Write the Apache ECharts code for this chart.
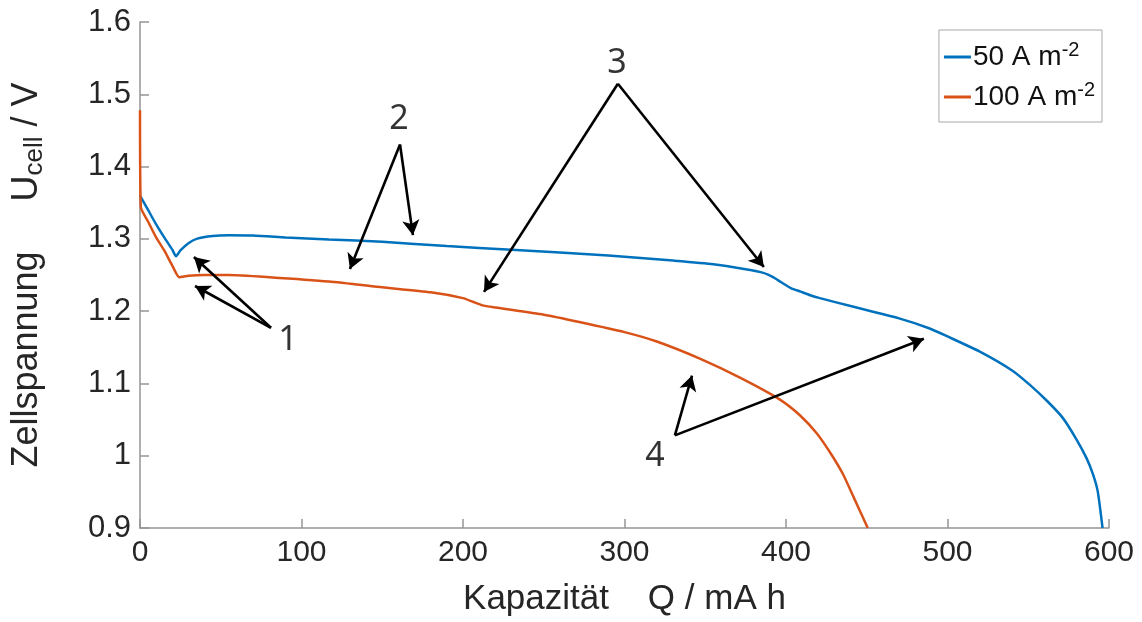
<!DOCTYPE html>
<html>
<head>
<meta charset="utf-8">
<script src="https://cdn.jsdelivr.net/npm/echarts@6/dist/echarts.min.js"></script>
<style>
  html, body { margin: 0; padding: 0; background: #fff; }
  #mainChart { width: 1142px; height: 622px; }
</style>
</head>
<body>
<div id="mainChart"></div>
<script>
  // discharge curve 50 A m-2
  var q50 = [0, 5, 10, 15, 20, 22.3, 25, 30, 35, 45, 55, 70, 90, 117, 150, 190, 230, 290, 330, 355, 375, 386, 392, 397, 403, 409, 415, 421, 440, 470, 489, 500, 520, 540, 551, 562, 571.5, 580, 586, 590, 593, 596];
  var u50 = [1.360, 1.340, 1.320, 1.302, 1.285, 1.276, 1.284, 1.294, 1.300, 1.304, 1.305, 1.3045, 1.302, 1.299, 1.296, 1.290, 1.285, 1.277, 1.270, 1.265, 1.258, 1.253, 1.247, 1.240, 1.232, 1.227, 1.222, 1.218, 1.207, 1.190, 1.176, 1.165, 1.144, 1.118, 1.098, 1.075, 1.052, 1.022, 0.997, 0.975, 0.951, 0.900];
  // discharge curve 100 A m-2
  var q100 = [0, 0.5, 5, 10, 15, 20, 24.3, 30, 40, 55, 80, 117, 150, 180, 200, 206, 212, 220, 250, 272, 300, 320, 347, 371.5, 396, 408.6, 419, 428, 435.4, 442, 449, 450.6];
  var u100 = [1.478, 1.344, 1.324, 1.302, 1.284, 1.263, 1.247, 1.249, 1.250, 1.250, 1.247, 1.241, 1.233, 1.226, 1.218, 1.213, 1.208, 1.205, 1.195, 1.185, 1.171, 1.158, 1.134, 1.108, 1.078, 1.056, 1.031, 1.002, 0.974, 0.942, 0.908, 0.900];

  var seriesNames = ['50 A m-2', '100 A m-2'];
  var xTicks = [0, 100, 200, 300, 400, 500, 600];
  var yTicks = [0.9, 1, 1.1, 1.2, 1.3, 1.4, 1.5, 1.6];

  // annotation arrows: [fromQ, fromU, toQ, toU]
  var arrows = [
    [81.1, 1.177, 33.4, 1.2748],
    [81.1, 1.177, 34.1, 1.2348],
    [161.0, 1.4305, 130.0, 1.2583],
    [161.0, 1.4305, 169.0, 1.3051],
    [295.9, 1.5146, 213.0, 1.2266],
    [295.9, 1.5146, 386.3, 1.2610],
    [331.2, 1.0281, 341.8, 1.1108],
    [331.2, 1.0281, 485.4, 1.1618]
  ];
  // annotation numbers: [Q, U, text]
  var marks = [
    [91.6, 1.159, '1'],
    [160.4, 1.465, '2'],
    [295.3, 1.5435, '3'],
    [318.9, 0.9992, '4']
  ];

  function zip (xs, ys) {
    var out = [];
    for (var i = 0; i < xs.length; i++) out.push([xs[i], ys[i]]);
    return out;
  }

  var axisGrey = '#959595';
  var textColor = '#262626';
  var labelFont = 'Liberation Sans, Arial, sans-serif';

  var myChart = echarts.init(document.getElementById('mainChart'));
  myChart.setOption({
    animation: false,
    grid: { left: 140, right: 33, top: 22, bottom: 92 },
    legend: {
      data: seriesNames,
      orient: 'vertical',
      right: 40,
      top: 30,
      itemGap: 6,
      itemWidth: 27,
      itemHeight: 3,
      icon: 'rect',
      borderColor: '#a8a8a8',
      borderWidth: 1,
      padding: [10, 7, 8, 5],
      formatter: function (name) {
        return '{t|' + name.replace(' m-2', ' m') + '}{s|-2}';
      },
      textStyle: {
        color: '#111',
        padding: [0, 0, 0, -3],
        rich: {
          t: { fontSize: 28, lineHeight: 34, fontFamily: labelFont, color: '#111' },
          s: { fontSize: 20, lineHeight: 20, fontFamily: labelFont, color: '#111', padding: [0, 0, 14, 0] }
        }
      }
    },
    xAxis: {
      type: 'value',
      min: xTicks[0],
      max: xTicks[xTicks.length - 1],
      interval: 100,
      name: 'Kapazität    Q / mA h',
      nameLocation: 'middle',
      nameGap: 54,
      nameTextStyle: { fontSize: 35, color: textColor, fontFamily: labelFont },
      axisLine: { lineStyle: { color: axisGrey, width: 1.5 } },
      axisTick: { inside: true, length: 9, lineStyle: { color: axisGrey, width: 1.5 } },
      axisLabel: { fontSize: 30, color: textColor, fontFamily: labelFont, margin: 10 },
      splitLine: { show: false }
    },
    yAxis: {
      type: 'value',
      min: yTicks[0],
      max: yTicks[yTicks.length - 1],
      interval: 0.1,
      name: '{a|Zellspannung     U}{b|cell}{a| / V}',
      nameLocation: 'middle',
      nameRotate: 90,
      nameGap: 92,
      nameTextStyle: {
        color: textColor,
        rich: {
          a: { fontSize: 36, fontFamily: labelFont, color: textColor },
          b: { fontSize: 26, fontFamily: labelFont, color: textColor, padding: [16, 0, 0, 0] }
        }
      },
      axisLine: { show: true, lineStyle: { color: axisGrey, width: 1.5 } },
      axisTick: { show: true, inside: true, length: 9, lineStyle: { color: axisGrey, width: 1.5 } },
      axisLabel: { fontSize: 31, color: textColor, fontFamily: labelFont, margin: 9 },
      splitLine: { show: false }
    },
    series: [
      {
        name: seriesNames[0],
        type: 'line',
        data: zip(q50, u50),
        showSymbol: false,
        smooth: 0.2,
        color: '#0072BD',
        lineStyle: { width: 2.5, color: '#0072BD' }
      },
      {
        name: seriesNames[1],
        type: 'line',
        data: zip(q100, u100),
        showSymbol: false,
        smooth: 0.2,
        color: '#D95319',
        lineStyle: { width: 2.5, color: '#D95319' }
      },
      {
        name: 'notes',
        type: 'scatter',
        data: marks,
        symbolSize: 0,
        silent: true,
        label: {
          show: true,
          position: 'inside',
          formatter: function (p) { return p.value[2]; },
          fontSize: 34,
          color: '#000',
          textBorderWidth: 0,
          fontFamily: 'Noto Sans, Open Sans, sans-serif'
        },
        markLine: {
          silent: true,
          symbol: ['none', 'arrow'],
          symbolSize: [13, 15],
          label: { show: false },
          lineStyle: { color: '#000', width: 2.6, type: 'solid' },
          data: arrows.map(function (a) {
            return [{ coord: [a[0], a[1]] }, { coord: [a[2], a[3]] }];
          })
        }
      }
    ]
  });
</script>
</body>
</html>
